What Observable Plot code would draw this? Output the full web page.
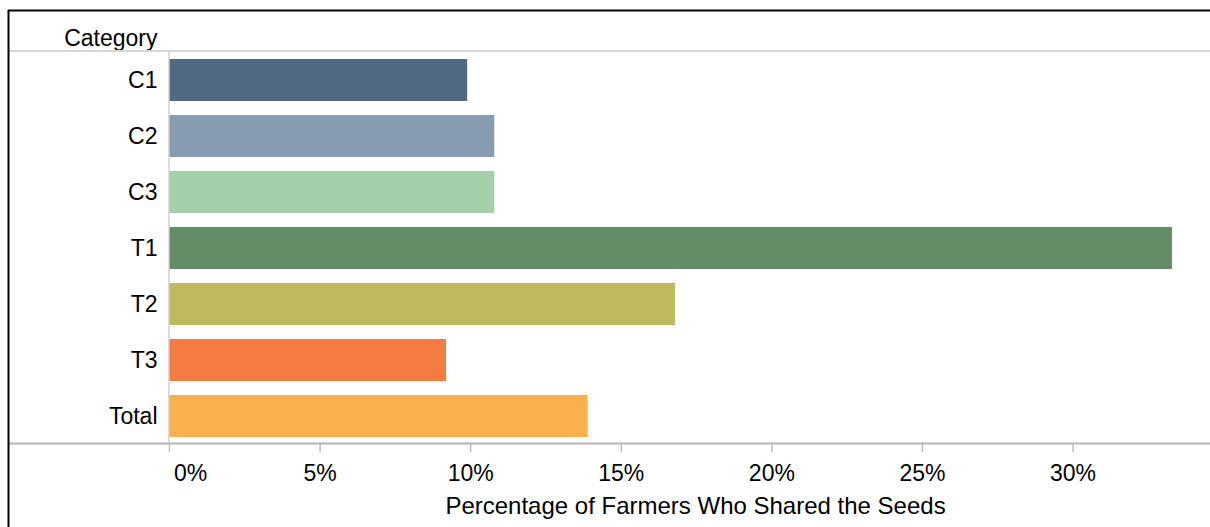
<!DOCTYPE html>
<html>
<head>
<meta charset="utf-8">
<script src="https://cdn.jsdelivr.net/npm/d3@7"></script>
<script src="https://cdn.jsdelivr.net/npm/@observablehq/plot@0.6"></script>
<style>
  html, body { margin: 0; padding: 0; background: #fff; }
  svg { display: block; }
</style>
</head>
<body>
<div id="chart"></div>
<script>
const categories = ["C1", "C2", "C3", "T1", "T2", "T3", "Total"];
const values = [9.9, 10.8, 10.8, 33.3, 16.8, 9.2, 13.9];
const colors = ["#4f6a82", "#879cb0", "#a3cfaa", "#648c66", "#bfba60", "#f47b43", "#f9b04d"];
const xTicks = [0, 5, 10, 15, 20, 25, 30];
const xTitle = "Percentage of Farmers Who Shared the Seeds";
const yTitle = "Category";

const data = categories.map((c, i) => ({category: c, value: values[i]}));

const W = 1210, H = 527;
const mL = 169, mT = 52, mB = 83, mR = 17;
const font = "'Liberation Sans', Arial, sans-serif";
const fs = 23;

const chart = Plot.plot({
  width: W,
  height: H,
  marginLeft: mL,
  marginTop: mT,
  marginBottom: mB,
  marginRight: mR,
  style: {fontFamily: font, fontSize: fs + "px", color: "#000", background: "#fff"},
  x: {domain: [0, 34]},
  y: {domain: categories, paddingInner: 0.25, paddingOuter: 0.125},
  color: {domain: categories, range: colors},
  marks: [
    Plot.barX(data, {x: "value", y: "category", fill: "category"}),
    Plot.axisY({tickSize: 0, tickPadding: 12, label: null, fontSize: fs, fill: "#000"}),
    Plot.axisX(xTicks, {
      tickSize: 8, tickPadding: 12, stroke: "#bdbdbd", strokeWidth: 1.5,
      tickFormat: d => d === 0 ? "" : d + "%", label: null, fontSize: fs, fill: "#000"
    }),
    Plot.axisX([0], {
      tickSize: 0, tickPadding: 20, dx: 21,
      tickFormat: d => d + "%", label: null, fontSize: fs, fill: "#000"
    }),
    Plot.text([yTitle], {frameAnchor: "top-left", lineAnchor: "middle", dx: -12, dy: -14, textAnchor: "end", fontSize: fs, fill: "#000"}),
    Plot.text([xTitle], {frameAnchor: "bottom", lineAnchor: "middle", dx: 14, dy: 62, fontSize: 24, fill: "#000"})
  ]
});

// frame decorations (panel borders and dividers)
const svg = d3.select(chart);
const g = svg.append("g");
g.append("line").attr("x1", 8).attr("x2", W).attr("y1", 51).attr("y2", 51)
  .attr("stroke", "#d6d6d6").attr("stroke-width", 2);
g.append("line").attr("x1", mL).attr("x2", mL).attr("y1", 51).attr("y2", H - mB)
  .attr("stroke", "#cfcfcf").attr("stroke-width", 1.5);
g.append("line").attr("x1", 8).attr("x2", W).attr("y1", H - mB - 0.5).attr("y2", H - mB - 0.5)
  .attr("stroke", "#b5b5b5").attr("stroke-width", 2);
g.append("line").attr("x1", 8).attr("x2", W).attr("y1", 10.5).attr("y2", 10.5)
  .attr("stroke", "#000").attr("stroke-width", 2);
g.append("line").attr("x1", 8.5).attr("x2", 8.5).attr("y1", 10).attr("y2", H)
  .attr("stroke", "#000").attr("stroke-width", 2);

document.getElementById("chart").appendChild(chart);
</script>
</body>
</html>
